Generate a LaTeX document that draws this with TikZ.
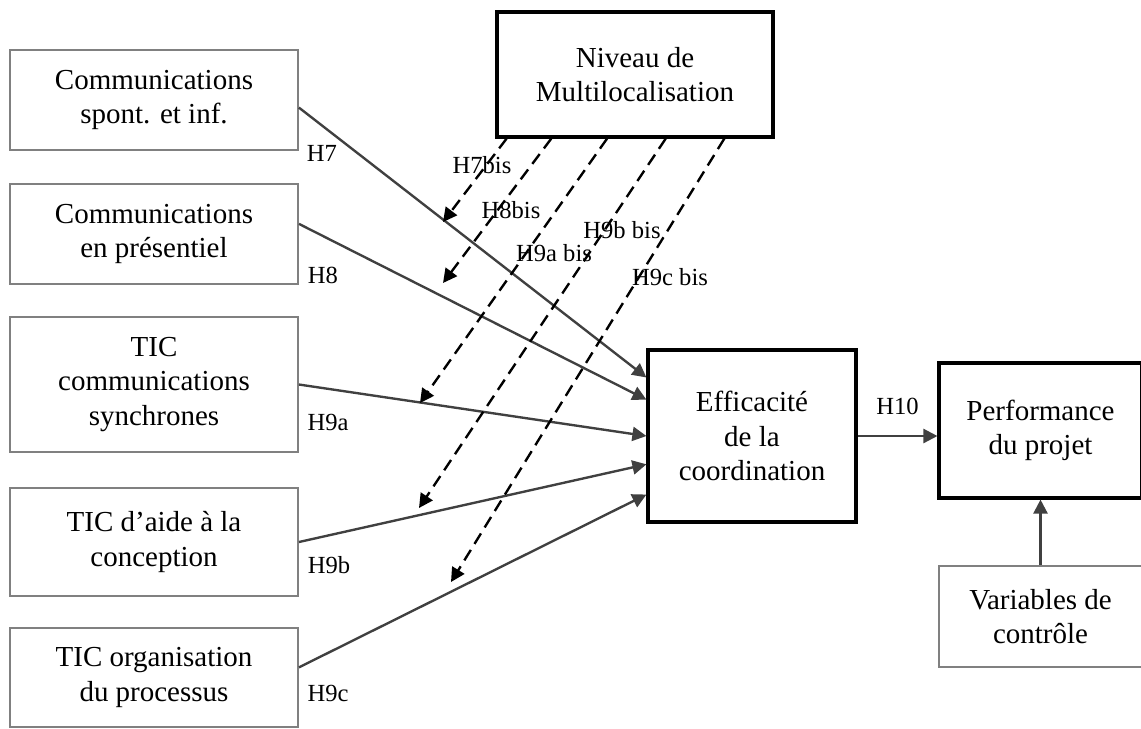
\documentclass[tikz,border=0pt]{standalone}
\usepackage{fontspec}
\setmainfont{Liberation Serif}
\usetikzlibrary{arrows.meta,calc}

\begin{document}
\begin{tikzpicture}[x=0.02cm, y=-0.02cm,
        box/.style={draw=black!50, line width=1.1pt, align=center, minimum width=5.76cm, font=\fontsize{16.5}{19.5}\selectfont},
        mainbox/.style={box, draw=black, line width=1.8pt},
        hyp/.style={draw=black!75, line width=1.35pt, -{Triangle[length=8pt,width=8pt]}},
        modhyp/.style={hyp, draw=black, dash pattern=on 7pt off 4pt},
        hlab/.style={font=\fontsize{14}{16}\selectfont}]
        \useasboundingbox (0,0) rectangle (1141,728);
        % determinants
        \node[box, minimum height=2cm] (c1) at (154,100) {Communications\\spont. et inf.};
        \node[box, minimum height=2cm] (c2) at (154,234) {Communications\\en présentiel};
        \node[box, minimum height=2.7cm] (tsync) at (154,384.5) {TIC\\communications\\synchrones};
        \node[box, minimum height=2.16cm] (tconc) at (154,542) {TIC d'aide à la\\conception};
        \node[box, minimum height=1.98cm] (torg) at (154,677.5) {TIC organisation\\du processus};
        % moderator, mediator, outcome
        \node[mainbox, minimum width=5.52cm, minimum height=2.5cm] (niv) at (635,74.5) {Niveau de\\Multilocalisation};
        \node[mainbox, minimum width=4.16cm, minimum height=3.44cm] (eff) at (752,436) {Efficacité\\de la\\coordination};
        \node[mainbox, minimum width=4.06cm, minimum height=2.7cm] (perf) at (1040.5,430.5) {Performance\\du projet};
        \node[box, minimum width=4.06cm, minimum height=2.02cm] (ctrl) at (1040.5,616.5) {Variables de\\contrôle};
        % direct effects
        \draw[hyp] (c1.-3) -- (eff.151);
        \draw[hyp] (c2.4) -- (eff.161);
        \draw[hyp] (tsync.east) -- (eff.180);
        \draw[hyp] (tconc.east) -- (eff.195);
        \draw[hyp] (torg.4) -- (eff.209);
        \draw[hyp] (eff.east) -- (eff.east -| perf.west) node[midway, above=8pt, hlab] (l10) {H10};
        \draw[hyp] (ctrl.north) -- (perf.south);
        % moderating effects
        \coordinate (t7) at (443,222);
        \coordinate (t8) at (443,283);
        \coordinate (t9a) at (420,403);
        \coordinate (t9b) at (419,508);
        \coordinate (t9c) at (451,582);
        \foreach \f/\t in {0.04/t7, 0.2/t8, 0.4/t9a, 0.61/t9b, 0.82/t9c}
            \draw[modhyp] ($(niv.south west)!\f!(niv.south east)$) -- (\t);
        % labels
        \node[hlab] (l7) at (322,153) {H7};
        \node[hlab] (l8) at (323,275) {H8};
        \node[hlab] (l9a) at (328,422) {H9a};
        \node[hlab] (l9b) at (329,565) {H9b};
        \node[hlab] (l9c) at (328,693) {H9c};
        \node[hlab] (l7b) at (482,165) {H7bis};
        \node[hlab] (l8b) at (511,210) {H8bis};
        \node[hlab] (l9ab) at (554,253) {H9a bis};
        \node[hlab] (l9bb) at (622,230) {H9b bis};
        \node[hlab] (l9cb) at (670,277) {H9c bis};
\end{tikzpicture}
\end{document}
